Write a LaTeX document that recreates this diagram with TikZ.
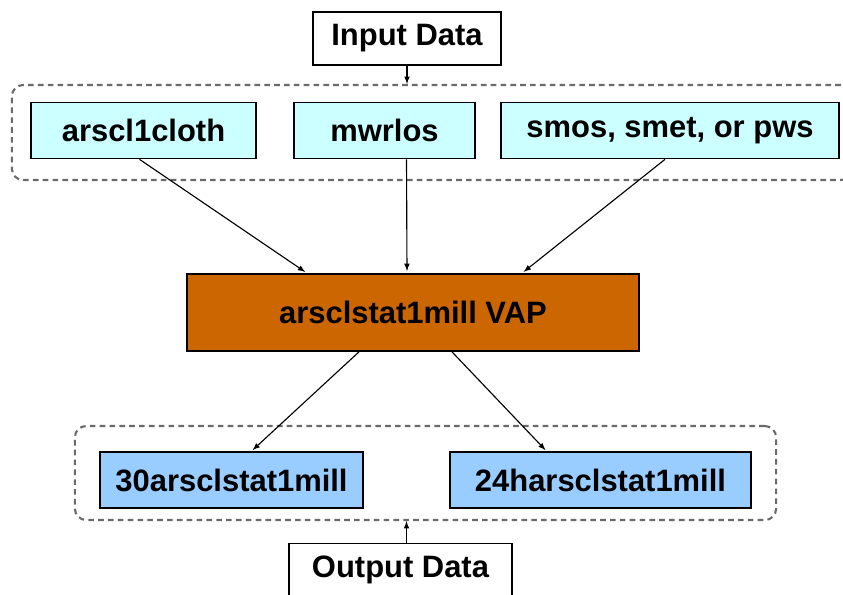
\documentclass[tikz,border=0pt]{standalone}
\usepackage{fontspec}
\setmainfont{Liberation Sans}
\definecolor{inbox}{HTML}{CCFFFF}
\definecolor{vapbox}{HTML}{CC6600}
\definecolor{outbox}{HTML}{99CCFF}
\definecolor{grpline}{HTML}{6A6A6A}
\begin{document}
\begin{tikzpicture}[x=0.025cm, y=-0.025cm, every node/.style={font=\fontsize{22}{26}\selectfont\bfseries},
  databox/.style={draw, line width=1.2pt, inner sep=0pt, minimum height=1.4cm},
  grp/.style={draw=grpline, dashed, dash pattern=on 4pt off 3pt, line width=1.5pt, rounded corners=8pt, minimum height=2.375cm},
  arr/.style={->, >=latex, line width=0.8pt}]
  \useasboundingbox (0,0) rectangle (843,594);
  % dashed groups
  \node[grp, minimum width=21cm] (ingrp) at (432,132.5) {};
  \node[grp, minimum width=17.525cm, minimum height=2.35cm] (outgrp) at (425.5,473) {};
  % labels
  \node[databox, fill=white, minimum width=4.7cm, minimum height=1.325cm] (input) at (407,38.5) {Input Data};
  \node[databox, fill=white, minimum width=5.575cm, minimum height=1.325cm] (output) at (400.5,570) {Output Data};
  % input products
  \node[databox, fill=inbox, minimum width=5.625cm] (cloth) at (143.5,130.5) {arscl1cloth};
  \node[databox, fill=inbox, minimum width=4.525cm] (mwrlos) at (384.5,130.5) {mwrlos};
  \node[databox, fill=inbox, minimum width=8.45cm] (smos) at (670,130.5) {smos, smet, or pws};
  % the VAP
  \node[databox, fill=vapbox, minimum width=11.3cm, minimum height=1.925cm] (vap) at (413,312.5) {arsclstat1mill VAP};
  % output products
  \node[databox, fill=outbox, minimum width=6.575cm] (thirty) at (231.5,480) {30arsclstat1mill};
  \node[databox, fill=outbox, minimum width=7.525cm] (daily) at (600.5,480) {24harsclstat1mill};
  \draw[arr] (input.south) -- (input.south |- ingrp.north);
  \draw[arr] ([xshift=0.15cm]output.north) -- ([xshift=0.15cm]output.north |- outgrp.south);
  \draw[arr, shorten >=1.5pt] ([xshift=-0.1cm]cloth.south) -- ([xshift=-2.65cm]vap.north);
  \draw[arr, shorten >=1.5pt] ([xshift=0.55cm]mwrlos.south) -- ([xshift=-0.15cm]vap.north);
  \draw[arr, shorten >=1.5pt] ([xshift=-0.125cm]smos.south) -- ([xshift=2.725cm]vap.north);
  \draw[arr, shorten >=1pt] ([xshift=-1.35cm]vap.south) -- ([xshift=0.5cm]thirty.north);
  \draw[arr, shorten >=1pt] ([xshift=0.975cm]vap.south) -- ([xshift=-1.35cm]daily.north);
\end{tikzpicture}
\end{document}
